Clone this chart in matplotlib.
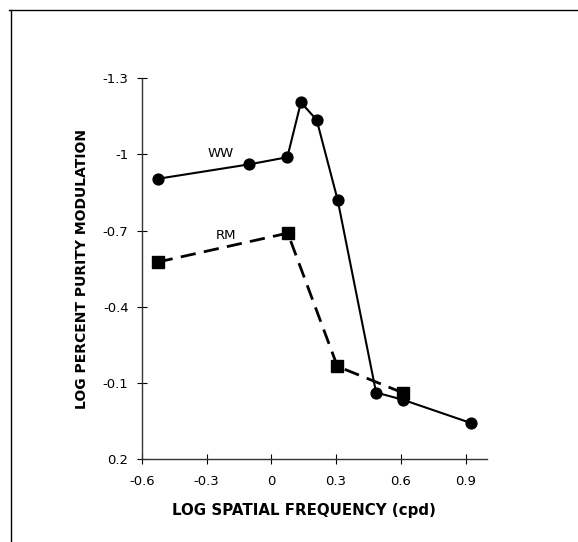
import matplotlib
matplotlib.use("Agg")
import matplotlib.pyplot as plt
from matplotlib.lines import Line2D

plt.rcParams['font.family'] = ['DejaVu Sans']

ww_x = [-0.526, -0.102, 0.074, 0.137, 0.210, 0.307, 0.485, 0.611, 0.923]
ww_y = [-0.904, -0.961, -0.989, -1.205, -1.136, -0.821, -0.062, -0.033, 0.058]
rm_x = [-0.526, 0.076, 0.306, 0.611]
rm_y = [-0.576, -0.690, -0.165, -0.060]
x_ticks = [-0.6, -0.3, 0, 0.3, 0.6, 0.9]
x_tick_labels = ["-0.6", "-0.3", "0", "0.3", "0.6", "0.9"]
y_ticks = [-1.3, -1.0, -0.7, -0.4, -0.1, 0.2]
y_tick_labels = ["-1.3", "-1", "-0.7", "-0.4", "-0.1", "0.2"]

fig = plt.figure(figsize=(5.78, 5.42), dpi=100)
ax = fig.add_axes([0.2452, 1 - 459/542, 0.5968, (459 - 78.3)/542])

ax.plot(ww_x, ww_y, color='black', lw=1.5, marker='o', markersize=7.8, zorder=3)
ax.plot(rm_x, rm_y, color='black', lw=2.0, ls=(0, (5.5, 3)), marker='s', markersize=8.3, zorder=3)

ax.text(-0.234, -1.005, "WW", fontsize=9.5, ha='center', va='center')
ax.text(-0.21, -0.68, "RM", fontsize=9.5, ha='center', va='center')

ax.set_xlim(-0.6, 0.997)
ax.set_ylim(0.2, -1.3)
ax.set_xticks(x_ticks)
ax.set_xticklabels(x_tick_labels)
ax.set_yticks(y_ticks)
ax.set_yticklabels(y_tick_labels)
ax.tick_params(direction='inout', length=7, width=0.8, labelsize=9.5)
ax.tick_params(axis='x', pad=8)
ax.tick_params(axis='y', pad=6)
for s in ['top', 'right']:
    ax.spines[s].set_visible(False)
for s in ['left', 'bottom']:
    ax.spines[s].set_linewidth(1.0)
    ax.spines[s].set_color('#333333')

ax.set_xlabel("LOG SPATIAL FREQUENCY (cpd)", fontsize=10.8, fontweight='bold', labelpad=11)
ax.xaxis.label.set_x(0.47)
ax.set_ylabel("LOG PERCENT PURITY MODULATION", fontsize=10, fontweight='bold', labelpad=10)

# figure frame (top and left edges)
fig.add_artist(Line2D([9/578, 1.0], [1 - 10/542, 1 - 10/542], transform=fig.transFigure, color='black', lw=1.0))
fig.add_artist(Line2D([11/578, 11/578], [0.0, 1 - 10/542], transform=fig.transFigure, color='black', lw=1.0))

fig.savefig("out.png", dpi=100)
